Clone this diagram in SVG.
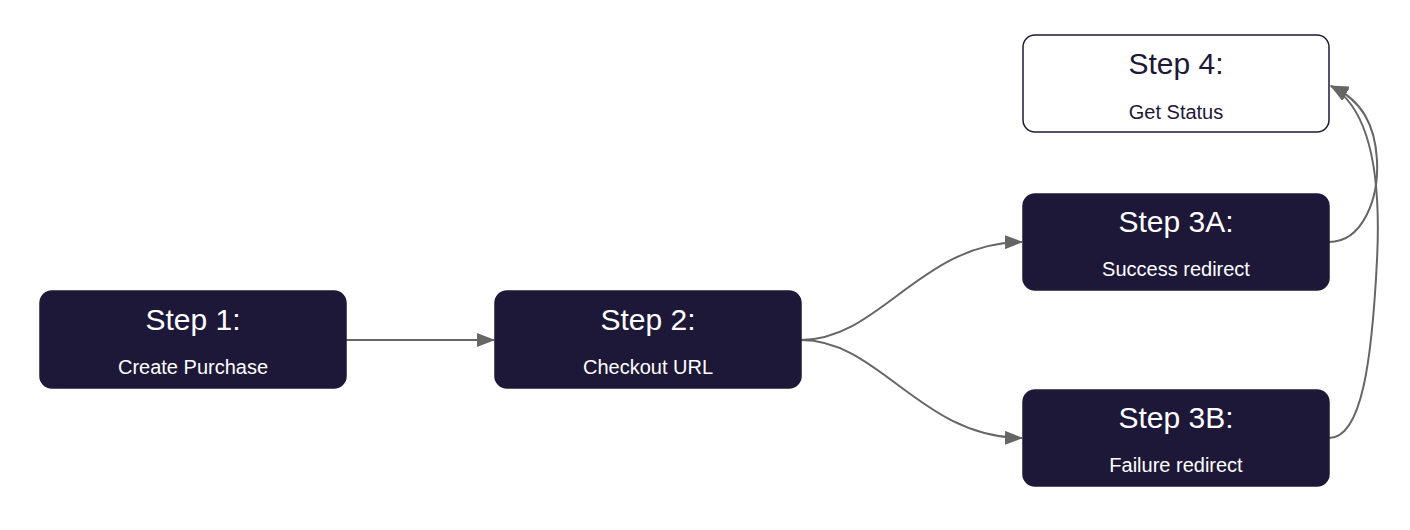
<svg xmlns="http://www.w3.org/2000/svg" width="1410" height="530" viewBox="0 0 1410 530">
<style>
.box{fill:#1e1838;stroke:#1e1838;stroke-width:1.5}
.boxw{fill:#ffffff;stroke:#1e1838;stroke-width:1.5}
.t{font-family:"Liberation Sans",Arial,sans-serif;font-size:30px;text-anchor:middle;fill:#ffffff}
.s{font-family:"Liberation Sans",Arial,sans-serif;font-size:20px;text-anchor:middle;fill:#ffffff}
.dk{fill:#1e1838}
.edge{fill:none;stroke:#666666;stroke-width:2}
</style>
<defs>
<marker id="arr" markerUnits="userSpaceOnUse" markerWidth="18" markerHeight="14" refX="17" refY="7" orient="auto">
<path d="M0,0 L18,7 L0,14 Z" fill="#666666"/>
</marker>
</defs>
<rect width="1410" height="530" fill="#ffffff"/>
<g id="connectors">
<path class="edge" d="M346,340 L494,340" marker-end="url(#arr)"/>
<path class="edge" d="M801,340 C880,340 920,243 1022,242" marker-end="url(#arr)"/>
<path class="edge" d="M801,340 C880,340 920,437 1022,438" marker-end="url(#arr)"/>
<path class="edge" d="M1329,242 C1362,242 1379,200 1377,160 C1375,125 1362,100 1331,86" marker-end="url(#arr)"/>
<path class="edge" d="M1329,438 C1362,438 1372,360 1377,260 C1381,180 1372,110 1331,86" marker-end="url(#arr)"/>
</g>
<g id="step1">
<rect class="box" x="40" y="291" width="306" height="97" rx="12"/>
<text class="t" x="193" y="330">Step 1:</text>
<text class="s" x="193" y="374">Create Purchase</text>
</g>
<g id="step2">
<rect class="box" x="495" y="291" width="306" height="97" rx="12"/>
<text class="t" x="648" y="330">Step 2:</text>
<text class="s" x="648" y="374">Checkout URL</text>
</g>
<g id="step3a">
<rect class="box" x="1023" y="194" width="306" height="96" rx="12"/>
<text class="t" x="1176" y="232">Step 3A:</text>
<text class="s" x="1176" y="276">Success redirect</text>
</g>
<g id="step3b">
<rect class="box" x="1023" y="390" width="306" height="96" rx="12"/>
<text class="t" x="1176" y="428">Step 3B:</text>
<text class="s" x="1176" y="472">Failure redirect</text>
</g>
<g id="step4">
<rect class="boxw" x="1023" y="35" width="306" height="97" rx="12"/>
<text class="t dk" x="1176" y="74">Step 4:</text>
<text class="s dk" x="1176" y="119">Get Status</text>
</g>
</svg>
